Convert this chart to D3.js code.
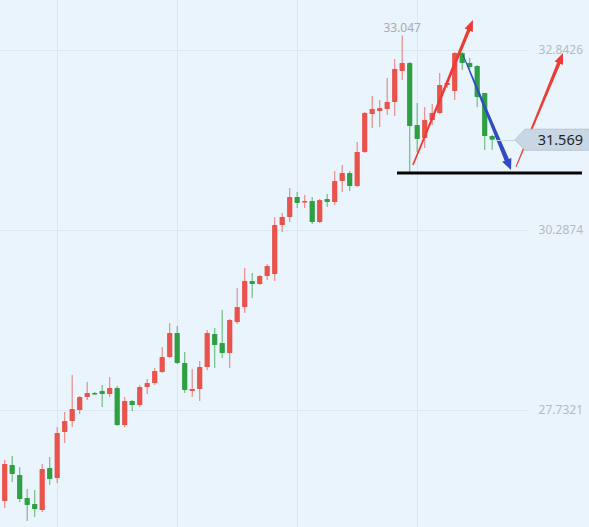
<!DOCTYPE html>
<html>
<head>
<meta charset="utf-8">
<script src="https://cdn.jsdelivr.net/npm/d3@7"></script>
<style>
  html, body { margin: 0; padding: 0; background: #eaf4fc; overflow: hidden; }
  svg { display: block; font-family: "Noto Sans", "Open Sans", sans-serif; }
</style>
</head>
<body>
<div id="chart"></div>
<script>
// candle values (red = up, green = down)
const open  = [26.440,26.951,26.809,26.483,26.398,26.312,26.908,26.767,27.420,27.576,
               27.732,27.917,27.973,28.002,27.959,28.044,27.519,27.860,27.803,28.058,
               28.115,28.271,28.484,28.825,28.399,28.002,28.030,28.342,28.811,28.683,
               28.541,28.981,29.194,29.563,29.521,29.634,29.663,30.358,30.472,30.756,
               30.685,30.699,30.401,30.727,30.685,30.983,31.097,30.912,31.395,31.934,
               31.977,32.005,32.105,32.545,32.658,31.778,31.593,31.849,31.948,32.346,
               32.261,32.800,32.658,32.616,32.232,31.622]
const high  = [27.022,27.079,26.923,26.610,26.596,26.966,27.065,27.491,27.704,28.229,
               27.931,28.129,27.987,28.087,28.200,28.073,27.917,27.874,28.087,28.172,
               28.328,28.626,28.967,28.924,28.555,28.314,28.428,28.868,28.896,29.152,
               29.024,29.464,29.748,29.677,29.649,29.805,30.472,30.529,30.884,30.827,
               30.784,30.756,30.727,30.798,31.125,31.210,31.125,31.537,31.963,32.190,
               32.133,32.445,32.715,33.047,32.672,32.090,32.033,32.076,32.516,32.417,
               32.814,32.814,32.729,32.630,32.232,31.636]
const low   = [26.341,26.710,26.426,26.157,26.213,26.284,26.667,26.696,27.264,27.491,
               27.675,27.874,27.945,27.775,27.917,27.505,27.491,27.718,27.775,27.959,
               28.087,28.257,28.470,28.385,27.973,27.917,27.860,28.300,28.328,28.470,
               28.328,28.953,29.109,29.322,29.507,29.577,29.563,30.259,30.401,30.600,
               30.600,30.372,30.387,30.614,30.642,30.827,30.841,30.898,31.380,31.735,
               31.750,31.920,31.906,32.417,31.111,31.395,31.451,31.778,31.934,32.303,
               32.133,32.559,32.573,32.033,31.423,31.423]
const close = [26.966,26.823,26.468,26.384,26.327,26.894,26.752,27.406,27.576,27.746,
               27.917,27.973,27.959,27.959,28.044,27.519,27.860,27.803,28.058,28.115,
               28.286,28.484,28.825,28.399,28.016,28.030,28.342,28.825,28.655,28.541,
               29.010,29.194,29.563,29.521,29.634,29.776,30.358,30.472,30.756,30.671,
               30.699,30.401,30.713,30.685,30.983,31.097,30.912,31.395,31.948,32.005,
               32.019,32.105,32.573,32.658,31.764,31.579,31.849,31.948,32.346,32.374,
               32.800,32.658,32.601,32.176,31.622,31.569]

const priceTicks = [32.8426, 30.2874, 27.7321]   // right-hand labels
const barTicks   = [7, 23, 39, 55]                // vertical grid, by bar index
const maxIndex   = 53                             // bar carrying the "33.047" label
const lastPrice  = 31.569

// drawn annotations, in (bar index, price)
const arrowsUp1  = [[54.43, 31.210], [62.43, 33.268]]
const arrowDown  = [[61.11, 32.771], [67.51, 31.139]]
const arrowsUp2  = [[68.17, 31.182], [74.44, 32.800]]
const supportLine = [[52.31, 31.097], [76.97, 31.097]]

const width = 589, height = 527
const upColor = "#e9534c", downColor = "#2ea043"

const svg = d3.select("#chart").append("svg")
  .attr("width", width)
  .attr("height", height)

svg.append("rect").attr("width", width).attr("height", height).attr("fill", "#eaf4fc")

const x = d3.scaleLinear().domain([0, 65]).range([4.7, 492.2])
const y = d3.scaleLinear().domain([27.7321, 32.8426]).range([410, 50])

// grid
svg.append("g").selectAll("line")
  .data(barTicks).enter().append("line")
  .attr("x1", d => Math.round(x(d)) + 0.5).attr("x2", d => Math.round(x(d)) + 0.5)
  .attr("y1", 0).attr("y2", height)
  .attr("stroke", "#dbe7f1").attr("stroke-width", 1)

svg.append("g").selectAll("line")
  .data(priceTicks).enter().append("line")
  .attr("x1", 0).attr("x2", 528)
  .attr("y1", d => Math.round(y(d)) + 0.5).attr("y2", d => Math.round(y(d)) + 0.5)
  .attr("stroke", "#dbe7f1").attr("stroke-width", 1)

svg.append("g").selectAll("text")
  .data(priceTicks).enter().append("text")
  .attr("x", 583).attr("y", d => y(d))
  .attr("dy", "0.35em")
  .attr("text-anchor", "end")
  .attr("font-size", 12)
  .attr("fill", "#b3bcc5")
  .text(d => d3.format(".4f")(d))

// candles
const candles = svg.append("g").selectAll("g")
  .data(d3.range(open.length)).enter().append("g")

candles.append("line")
  .attr("x1", i => x(i)).attr("x2", i => x(i))
  .attr("y1", i => y(high[i])).attr("y2", i => y(low[i]))
  .attr("stroke", i => close[i] >= open[i] ? upColor : downColor)
  .attr("stroke-opacity", 0.7)
  .attr("stroke-width", 1.1)

candles.append("rect")
  .attr("x", i => x(i) - 2.6)
  .attr("width", 5.2)
  .attr("y", i => y(Math.max(open[i], close[i])))
  .attr("height", i => Math.max(1.5, Math.abs(y(open[i]) - y(close[i]))))
  .attr("rx", 0.6)
  .attr("fill", i => close[i] >= open[i] ? upColor : downColor)

// high marker
svg.append("text")
  .attr("x", x(maxIndex)).attr("y", y(high[maxIndex]) - 4)
  .attr("text-anchor", "middle")
  .attr("font-size", 12)
  .attr("fill", "#a9abae")
  .text(high[maxIndex])

// support line
svg.append("line")
  .attr("x1", x(supportLine[0][0])).attr("x2", x(supportLine[1][0]))
  .attr("y1", y(supportLine[0][1])).attr("y2", y(supportLine[1][1]))
  .attr("stroke", "#050505").attr("stroke-width", 3)

// tapered arrow: thin tail, thicker shaft, filled head
function arrowPath(pts, w0, w1, headLen, headW) {
  const [a, b] = pts.map(p => [x(p[0]), y(p[1])])
  const dx = b[0] - a[0], dy = b[1] - a[1], len = Math.hypot(dx, dy)
  const ux = dx / len, uy = dy / len, nx = -uy, ny = ux
  const s = [b[0] - ux * headLen, b[1] - uy * headLen]
  const pt = (p, k) => [p[0] + nx * k, p[1] + ny * k]
  return d3.line()([
    pt(a, w0 / 2), pt(s, w1 / 2), pt(s, headW / 2), b,
    pt(s, -headW / 2), pt(s, -w1 / 2), pt(a, -w0 / 2)
  ]) + "Z"
}

svg.append("path").attr("d", arrowPath(arrowsUp1, 1.6, 3.4, 11, 9)).attr("fill", "#ee3b36")
svg.append("path").attr("d", arrowPath(arrowDown, 0.9, 4.6, 11, 10)).attr("fill", "#2f4bc6")
svg.append("path").attr("d", arrowPath(arrowsUp2, 1, 3.6, 11, 9)).attr("fill", "#ee3b36")

// last price tag
const ly = y(lastPrice)
svg.append("line")
  .attr("x1", x(65) + 3).attr("x2", 516)
  .attr("y1", Math.round(ly) + 0.5).attr("y2", Math.round(ly) + 0.5)
  .attr("stroke", "#cbd6e1")

svg.append("path")
  .attr("d", d3.line()([[515, ly], [525, ly - 10.5], [590, ly - 10.5], [590, ly + 10.5], [525, ly + 10.5]]) + "Z")
  .attr("fill", "#c9d6e3")
  .attr("stroke", "#b7c6d5")

svg.append("text")
  .attr("x", 583).attr("y", ly)
  .attr("dy", "0.36em")
  .attr("text-anchor", "end")
  .attr("font-size", 14.5)
  .attr("fill", "#1d232a")
  .text(d3.format(".3f")(lastPrice))
</script>
</body>
</html>
